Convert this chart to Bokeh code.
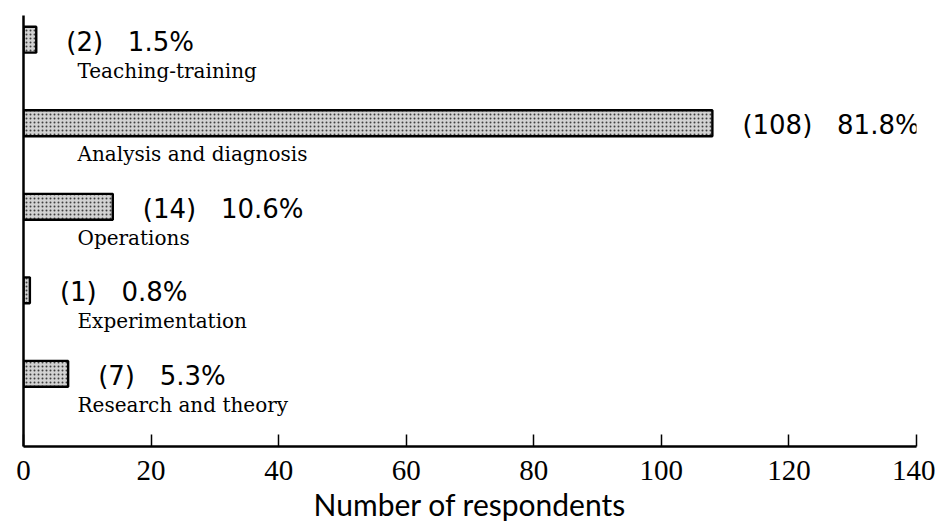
from bokeh.plotting import figure
from bokeh.models import ColumnDataSource, LabelSet, Range1d, FixedTicker
from bokeh.core.properties import value
from bokeh.embed import file_html
from bokeh.resources import INLINE

# Data (top to bottom in the chart)
categories = ["Teaching-training", "Analysis and diagnosis", "Operations",
              "Experimentation", "Research and theory"]
counts = [2, 108, 14, 1, 7]
percents = [1.5, 81.8, 10.6, 0.8, 5.3]
x_ticks = [0, 20, 40, 60, 80, 100, 120, 140]

n = len(categories)
ypos = [n - 1 - i for i in range(n)]
gap = "\u00a0\u00a0\u00a0"
value_text = [f"({c}){gap}{p}%" for c, p in zip(counts, percents)]

src = ColumnDataSource(dict(cat=categories, count=counts, y=ypos,
                            vt=value_text, zero=[0] * n))

p = figure(output_backend="svg", toolbar_location=None,
           width=935, height=525,
           frame_width=893, frame_height=431,
           min_border_left=23, min_border_top=15, min_border_right=19,
           x_range=Range1d(0, 140), y_range=Range1d(-0.87, 4.29))

p.hbar(y="y", right="count", left=0, height=0.31, source=src,
       fill_color="#d2d2d2", line_color="black", line_width=2.4,
       hatch_pattern="dot", hatch_color="black", hatch_scale=4,
       hatch_weight=1.6, hatch_alpha=0.7)

vals = LabelSet(x="count", y="y", text="vt", source=src, x_offset=30, y_offset=-2,
                text_baseline="middle", text_font=value("DejaVu Sans"),
                text_font_size=value("26px"), text_color="black")
cats = LabelSet(x="zero", y="y", text="cat", source=src, x_offset=54, y_offset=-31,
                text_baseline="middle", text_font=value("DejaVu Serif"),
                text_font_size=value("20px"), text_color="black")
p.add_layout(vals)
p.add_layout(cats)

p.grid.visible = False
p.outline_line_color = None
p.background_fill_color = "white"

xa = p.xaxis[0]
xa.ticker = FixedTicker(ticks=x_ticks)
xa.bounds = (0, 140)
xa.axis_line_width = 2.5
xa.axis_line_color = "black"
xa.major_tick_in = 12
xa.major_tick_out = 0
xa.major_tick_line_width = 1.5
xa.major_tick_line_color = "black"
xa.minor_tick_line_color = None
xa.major_label_standoff = 14
xa.major_label_text_font = "Liberation Sans Narrow"
xa.major_label_text_font_size = "29px"
xa.major_label_text_color = "black"
xa.axis_label = "Number of respondents"
xa.axis_label_text_font = "Lato"
xa.axis_label_text_font_style = "normal"
xa.axis_label_text_font_size = "30px"
xa.axis_label_text_color = "black"
xa.axis_label_standoff = 3

ya = p.yaxis[0]
ya.axis_line_width = 2.5
ya.axis_line_color = "black"
ya.major_tick_line_color = None
ya.minor_tick_line_color = None
ya.major_label_text_font_size = "0px"
ya.major_label_standoff = 0

open("out.html", "w").write(file_html(p, INLINE))
